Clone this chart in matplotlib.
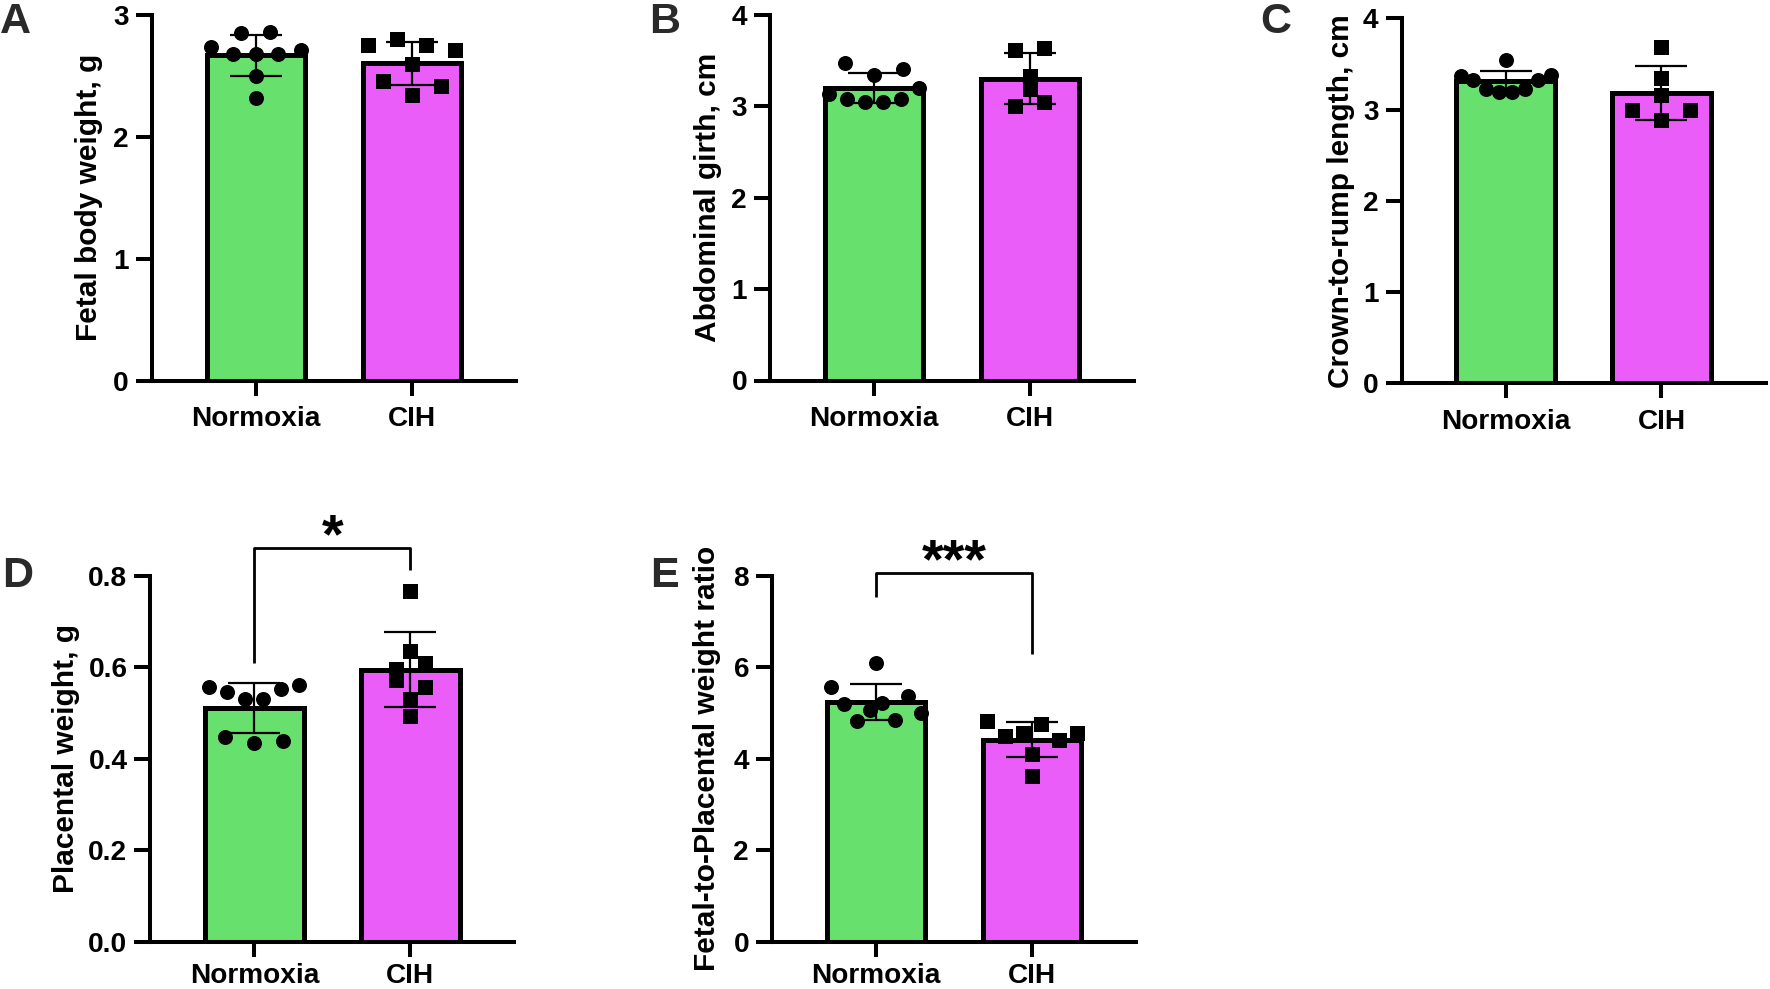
import numpy as np
import matplotlib
matplotlib.use('Agg')
import matplotlib.pyplot as plt
from matplotlib.ticker import FormatStrFormatter

plt.rcParams['font.family'] = ['Liberation Sans', 'DejaVu Sans']
plt.rcParams['font.weight'] = 'bold'
plt.rcParams['axes.labelweight'] = 'bold'

# ---------------- data ----------------
groups = ['Normoxia', 'CIH']

fetal_weight_normoxia = [2.74, 2.85, 2.86, 2.68, 2.68, 2.68, 2.71, 2.50, 2.32]
fetal_weight_cih = [2.75, 2.80, 2.75, 2.71, 2.60, 2.46, 2.34, 2.42]

girth_normoxia = [3.47, 3.34, 3.41, 3.13, 3.08, 3.05, 3.05, 3.08, 3.20]
girth_cih = [3.62, 3.64, 3.33, 3.19, 3.00, 3.05]

crl_normoxia = [3.54, 3.37, 3.32, 3.23, 3.19, 3.19, 3.23, 3.32, 3.38]
crl_cih = [3.69, 3.35, 3.16, 3.00, 2.89, 3.00]

placenta_normoxia = [0.556, 0.546, 0.530, 0.530, 0.552, 0.561, 0.448, 0.434, 0.439]
placenta_cih = [0.767, 0.636, 0.595, 0.610, 0.571, 0.530, 0.557, 0.493]

ratio_normoxia = [6.10, 5.57, 5.19, 4.83, 5.06, 5.22, 4.85, 5.36, 4.99]
ratio_cih = [4.82, 4.49, 4.56, 4.76, 4.41, 4.56, 4.10, 3.63]

# significance brackets: [left leg end, bracket height, right leg end]
placenta_bracket = [0.610, 0.861, 0.813]
placenta_sig = '*'
ratio_bracket = [7.54, 8.05, 6.29]
ratio_sig = '***'

yticks_A = [0, 1, 2, 3]
yticks_B = [0, 1, 2, 3, 4]
yticks_C = [0, 1, 2, 3, 4]
yticks_D = [0.0, 0.2, 0.4, 0.6, 0.8]
yticks_E = [0, 2, 4, 6, 8]

# ---------------- style ----------------
W, H = 1770, 989
GREEN = '#68E06E'
MAGENTA = '#EA5DF9'
LETTER_COLOR = '#2a2a2a'
TICK_FS = 20.2
LABEL_FS = 21.5
LETTER_FS = 31
SPINE_LW = 2.9
BAR_LW = 3.6
ERR_LW = 1.6
MS = 10.8
XLIM = (-0.667, 1.667)
AX_W = 364

fig = plt.figure(figsize=(W / 100, H / 100), dpi=100)


def rect(left, top, bottom):
    return [left / W, 1 - bottom / H, AX_W / W, (bottom - top) / H]


def swarm_offsets(values, px_per_y, px_per_x, thr_px=10.5, step_px=29.0, span_px=90.0):
    v = np.asarray(values, float)
    order = np.argsort(-v, kind='stable')
    rows, cur = [], [order[0]]
    for a, b in zip(order[:-1], order[1:]):
        if (v[a] - v[b]) * px_per_y <= thr_px:
            cur.append(b)
        else:
            rows.append(cur)
            cur = [b]
    rows.append(cur)
    dx = np.zeros(len(v))
    for r in rows:
        r = sorted(r)
        n = len(r)
        if n > 1:
            s = min(step_px, span_px / (n - 1))
            for i, idx in enumerate(r):
                dx[idx] = (i - (n - 1) / 2) * s / px_per_x
    return dx


def panel(r, normo, cih, ylabel, yticks, ylab_x, fmt=None, bracket=None, sig=None,
          xpad=7.5):
    ax = fig.add_axes(r)
    ax.set_xlim(*XLIM)
    ax.set_ylim(0, yticks[-1])
    for s in ['top', 'right']:
        ax.spines[s].set_visible(False)
    for s in ['left', 'bottom']:
        ax.spines[s].set_linewidth(SPINE_LW)
    data = [np.asarray(normo, float), np.asarray(cih, float)]
    means = [d.mean() for d in data]
    sds = [d.std(ddof=1) for d in data]
    xs = np.arange(len(groups))
    ax.bar(xs, means, width=0.63, color=[GREEN, MAGENTA], edgecolor='black',
           linewidth=BAR_LW, zorder=2)
    ax.errorbar(xs, means, yerr=sds, fmt='none', ecolor='black', elinewidth=ERR_LW,
                capsize=19, capthick=ERR_LW, zorder=3)
    p0 = ax.transData.transform((0, 0))
    p1 = ax.transData.transform((1, 1))
    pxx, pxy = p1[0] - p0[0], p1[1] - p0[1]
    for i, (d, m) in enumerate(zip(data, ['o', 's'])):
        dx = swarm_offsets(d, pxy, pxx)
        ax.plot(xs[i] + dx, d, linestyle='none', marker=m, ms=MS, color='black',
                markeredgewidth=0, zorder=5, clip_on=False)
    ax.set_xticks(xs)
    ax.set_xticklabels(groups, fontsize=TICK_FS, fontweight='bold')
    ax.set_yticks(yticks)
    if fmt:
        ax.yaxis.set_major_formatter(FormatStrFormatter(fmt))
    ax.tick_params(axis='x', length=11, width=SPINE_LW, pad=xpad, labelsize=TICK_FS)
    ax.tick_params(axis='y', length=11.5, width=SPINE_LW, pad=5, labelsize=TICK_FS)
    ax.set_ylabel(ylabel, fontsize=LABEL_FS, fontweight='bold')
    ax.yaxis.label.set_verticalalignment('center')
    ax.yaxis.set_label_coords(ylab_x, 0.5)
    if bracket is not None:
        ax.plot([0, 0, 1, 1], [bracket[0], bracket[1], bracket[1], bracket[2]],
                color='black', lw=2.0, clip_on=False, zorder=4, solid_capstyle='butt')
        ax.annotate(sig, xy=(0.5, bracket[1]), xytext=(0, -3), textcoords='offset points',
                    ha='center', va='baseline', fontsize=40, fontweight='bold',
                    annotation_clip=False)
    return ax


panel(rect(151.7, 15.0, 380.7), fetal_weight_normoxia, fetal_weight_cih,
      'Fetal body weight, g', yticks_A, -0.172)
panel(rect(770.0, 15.0, 380.5), girth_normoxia, girth_cih,
      'Abdominal girth, cm', yticks_B, -0.170)
panel(rect(1401.5, 18.3, 383.3), crl_normoxia, crl_cih,
      'Crown-to-rump length, cm', yticks_C, -0.166)
panel(rect(150.4, 575.7, 941.7), placenta_normoxia, placenta_cih,
      'Placental weight, g', yticks_D, -0.232, fmt='%.1f',
      bracket=placenta_bracket, sig=placenta_sig, xpad=4.5)
panel(rect(772.0, 575.7, 941.7), ratio_normoxia, ratio_cih,
      'Fetal-to-Placental weight ratio', yticks_E, -0.179,
      bracket=ratio_bracket, sig=ratio_sig, xpad=4.5)

for letter, x, y in [('A', 0, 33), ('B', 649, 33), ('C', 1260, 33),
                     ('D', 2, 587), ('E', 650, 587)]:
    fig.text(x / W, 1 - y / H, letter, fontsize=LETTER_FS, fontweight='bold',
             color=LETTER_COLOR, ha='left', va='baseline')

fig.savefig('out.png', dpi=100)
